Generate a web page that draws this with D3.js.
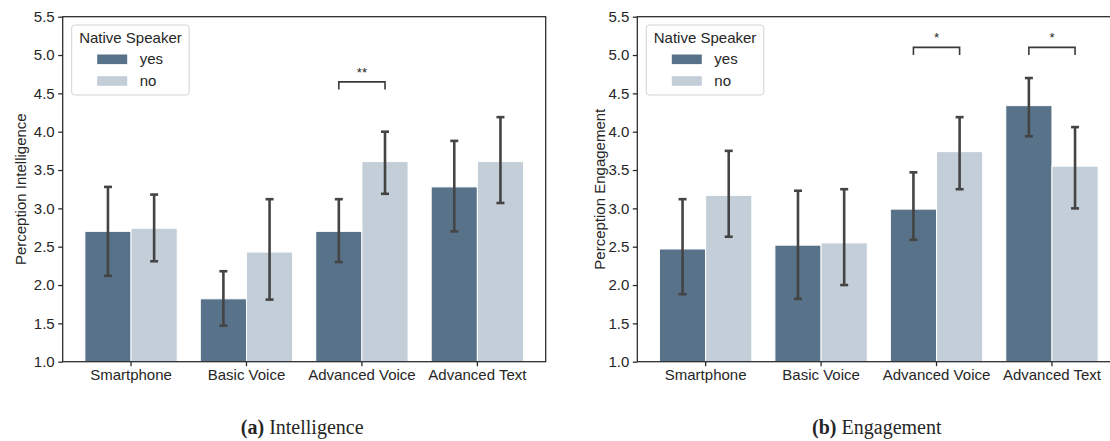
<!DOCTYPE html>
<html>
<head>
<meta charset="utf-8">
<script src="https://cdn.jsdelivr.net/npm/d3@7"></script>
<style>
  html, body { margin: 0; padding: 0; background: #fff; overflow: hidden; }
  svg { display: block; }
  text { font-family: "Liberation Sans", Arial, sans-serif; fill: #262626; }
</style>
</head>
<body>
<svg id="chart" width="1110" height="441"></svg>
<script>
// ---------- data ----------
const categories = ["Smartphone", "Basic Voice", "Advanced Voice", "Advanced Text"];
const groups = ["yes", "no"];
const yTicks = [1.0, 1.5, 2.0, 2.5, 3.0, 3.5, 4.0, 4.5, 5.0, 5.5];

// (a) Intelligence
const intelYes   = [2.70, 1.82, 2.70, 3.28];
const intelNo    = [2.74, 2.43, 3.61, 3.61];
const intelYesLo = [2.12, 1.47, 2.30, 2.70];
const intelYesHi = [3.28, 2.18, 3.12, 3.88];
const intelNoLo  = [2.31, 1.81, 3.19, 3.07];
const intelNoHi  = [3.18, 3.12, 4.00, 4.19];
const intelSig   = [{ category: "Advanced Voice", label: "**", level: 4.65 }];

// (b) Engagement
const engYes   = [2.47, 2.52, 2.99, 4.34];
const engNo    = [3.17, 2.55, 3.74, 3.55];
const engYesLo = [1.88, 1.82, 2.59, 3.94];
const engYesHi = [3.12, 3.23, 3.47, 4.70];
const engNoLo  = [2.63, 2.00, 3.25, 3.00];
const engNoHi  = [3.75, 3.25, 4.19, 4.06];
const engSig   = [
  { category: "Advanced Voice", label: "*", level: 5.10 },
  { category: "Advanced Text",  label: "*", level: 5.10 }
];

// ---------- styling ----------
const colors = { yes: "#587289", no: "#c3ced8" };
const axisColor = "#262626";
const errColor = "#444444";

const svg = d3.select("#chart");

function buildRows(yes, no, yesLo, yesHi, noLo, noHi) {
  const rows = [];
  categories.forEach((c, i) => {
    rows.push({ category: c, group: "yes", value: yes[i], lo: yesLo[i], hi: yesHi[i] });
    rows.push({ category: c, group: "no",  value: no[i],  lo: noLo[i],  hi: noHi[i] });
  });
  return rows;
}

function drawPanel(opts) {
  const { left, width, top, bottom, yLabel, rows, sig, labelX, caption, captionBold } = opts;
  const g = svg.append("g");

  const x = d3.scaleBand().domain(categories).range([left, left + width])
    .paddingInner(0.2).paddingOuter(0.192);
  const xs = d3.scaleBand().domain(groups).range([0, x.bandwidth()]);
  const y = d3.scaleLinear().domain([1, 5.5]).range([bottom, top]);

  // bars
  g.append("g").selectAll("rect").data(rows).join("rect")
    .attr("x", d => x(d.category) + xs(d.group))
    .attr("width", xs.bandwidth())
    .attr("y", d => y(d.value))
    .attr("height", d => y(1) - y(d.value))
    .attr("fill", d => colors[d.group])
    .attr("stroke", "#ffffff")
    .attr("stroke-width", 1);

  // error bars
  const cx = d => x(d.category) + xs(d.group) + xs.bandwidth() / 2;
  const eb = g.append("g").attr("stroke", errColor).attr("stroke-width", 2.6);
  eb.selectAll("line.v").data(rows).join("line").attr("class", "v")
    .attr("x1", cx).attr("x2", cx)
    .attr("y1", d => y(d.lo)).attr("y2", d => y(d.hi));
  eb.selectAll("line.t").data(rows).join("line").attr("class", "t")
    .attr("x1", d => cx(d) - 4).attr("x2", d => cx(d) + 4)
    .attr("y1", d => y(d.hi)).attr("y2", d => y(d.hi));
  eb.selectAll("line.b").data(rows).join("line").attr("class", "b")
    .attr("x1", d => cx(d) - 4).attr("x2", d => cx(d) + 4)
    .attr("y1", d => y(d.lo)).attr("y2", d => y(d.lo));

  // significance brackets
  sig.forEach(s => {
    const x1 = x(s.category) + xs("yes") + xs.bandwidth() / 2;
    const x2 = x(s.category) + xs("no") + xs.bandwidth() / 2;
    const yl = y(s.level);
    const yd = y(s.level - 0.1);
    g.append("path")
      .attr("d", `M${x1},${yd}V${yl}H${x2}V${yd}`)
      .attr("fill", "none").attr("stroke", "#3a3a3a").attr("stroke-width", 1.6);
    g.append("text")
      .attr("x", (x1 + x2) / 2).attr("y", yl - 5)
      .attr("text-anchor", "middle").attr("font-size", 13)
      .text(s.label);
  });

  // frame
  g.append("rect")
    .attr("x", left).attr("y", top).attr("width", width).attr("height", bottom - top)
    .attr("fill", "none").attr("stroke", axisColor).attr("stroke-width", 1.25);

  // axes
  const yAxis = d3.axisLeft(y).tickValues(yTicks).tickFormat(d3.format(".1f"))
    .tickSize(4.5).tickPadding(3.5);
  const ya = g.append("g").attr("transform", `translate(${left},0)`).call(yAxis);
  const xAxis = d3.axisBottom(x).tickSize(4.5).tickPadding(3.5);
  const xa = g.append("g").attr("transform", `translate(0,${bottom})`).call(xAxis);
  [ya, xa].forEach(a => {
    a.select(".domain").remove();
    a.selectAll(".tick line").attr("stroke", axisColor).attr("stroke-width", 1.25);
    a.selectAll(".tick text").attr("font-size", 15)
      .attr("font-family", "Liberation Sans, Arial, sans-serif").attr("fill", axisColor);
  });

  // y label
  g.append("text")
    .attr("transform", `translate(${labelX},${(top + bottom) / 2}) rotate(-90)`)
    .attr("text-anchor", "middle").attr("dy", "0.35em")
    .attr("font-size", 15).text(yLabel);

  // legend
  const lg = g.append("g").attr("transform", `translate(${left + 9},25)`);
  lg.append("rect").attr("width", 117.5).attr("height", 70).attr("rx", 3)
    .attr("fill", "#ffffff").attr("fill-opacity", 0.8)
    .attr("stroke", "#d3d3d3").attr("stroke-width", 1);
  lg.append("text").attr("x", 58.75).attr("y", 17.5).attr("text-anchor", "middle")
    .attr("font-size", 15).text("Native Speaker");
  groups.forEach((k, i) => {
    lg.append("rect").attr("x", 25.5).attr("y", 29.5 + i * 21.7)
      .attr("width", 30).attr("height", 9.6).attr("fill", colors[k]);
    lg.append("text").attr("x", 68).attr("y", 39 + i * 21.7)
      .attr("font-size", 15).text(k);
  });

  // caption
  const cap = svg.append("text")
    .attr("x", left + width / 2 - 2).attr("y", 434)
    .attr("text-anchor", "middle")
    .style("font-family", "'Liberation Serif', 'DejaVu Serif', serif")
    .attr("font-size", 20).attr("fill", "#111");
  cap.append("tspan").attr("font-weight", "bold").text(captionBold);
  cap.append("tspan").text(" " + caption);
}

drawPanel({
  left: 62.7, width: 483, top: 16.7, bottom: 361.7,
  yLabel: "Perception Intelligence", labelX: 20.5,
  rows: buildRows(intelYes, intelNo, intelYesLo, intelYesHi, intelNoLo, intelNoHi),
  sig: intelSig, caption: "Intelligence", captionBold: "(a)"
});

drawPanel({
  left: 637.3, width: 483, top: 16.7, bottom: 361.7,
  yLabel: "Perception Engagement", labelX: 600,
  rows: buildRows(engYes, engNo, engYesLo, engYesHi, engNoLo, engNoHi),
  sig: engSig, caption: "Engagement", captionBold: "(b)"
});
</script>
</body>
</html>
